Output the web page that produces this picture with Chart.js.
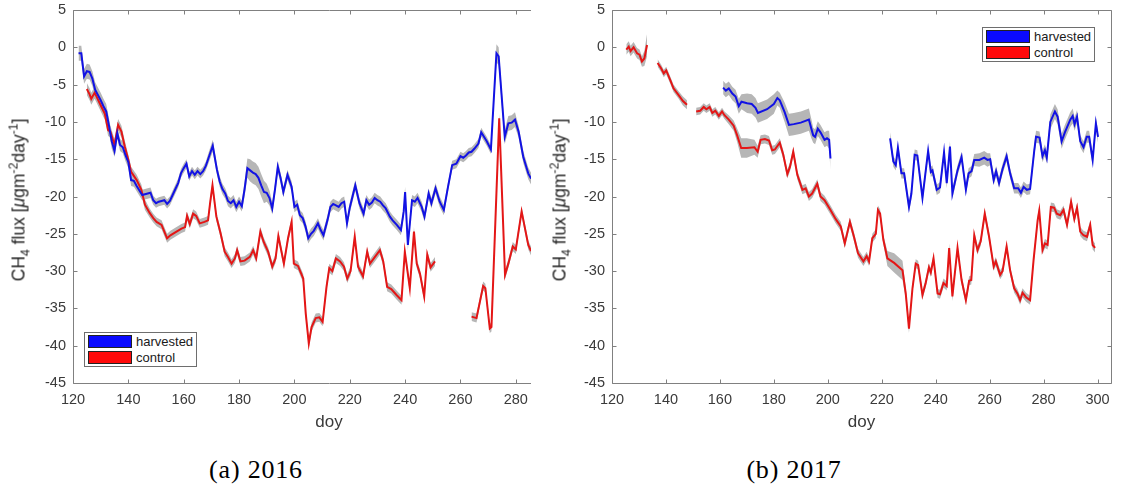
<!DOCTYPE html>
<html>
<head>
<meta charset="utf-8">
<title>CH4 flux 2016 / 2017</title>
<script src="https://cdn.jsdelivr.net/npm/chart.js@4.4.0/dist/chart.umd.min.js"></script>
<style>
  body { margin: 0; background: #fff; }
  #fig { position: relative; width: 1123px; height: 500px; background: #fff; overflow: hidden;
         font-family: "Liberation Sans", Arial, sans-serif; }
  .panel { position: absolute; top: 0; height: 440px; }
  #wrap16 { left: 0; width: 531px; overflow: hidden; }
  #wrap17 { left: 560px; width: 563px; }
  .ylab { position: absolute; font-size: 17.5px; color: #262626; white-space: nowrap;
          transform: translate(-50%, -50%) rotate(-90deg); }
  .ylab sub, .ylab sup { font-size: 70%; line-height: 0; }
  .legend { position: absolute; background: #fff; border: 1px solid #6e6e6e; font-size: 13px;
            color: #1a1a1a; padding: 1px 3px; }
  .legend .row { display: flex; align-items: center; height: 15.5px; }
  .legend .sw { width: 42px; height: 11px; border: 1px solid #222; margin-right: 4px; }
  .caption { position: absolute; top: 470px; transform: translate(-50%, -50%); white-space: nowrap;
             font-family: "Liberation Serif", "DejaVu Serif", serif; font-size: 26px; letter-spacing: 0.8px; color: #000; }
</style>
</head>
<body>
<div id="fig">
  <div class="panel" id="wrap16"><canvas id="chart16" width="600" height="440"></canvas></div>
  <div class="panel" id="wrap17"><canvas id="chart17" width="563" height="440"></canvas></div>
  <div class="ylab" style="left:19px; top:200px;">CH<sub>4</sub> flux [<i>μ</i>gm<sup>-2</sup>day<sup>-1</sup>]</div>
  <div class="ylab" style="left:560px; top:200px;">CH<sub>4</sub> flux [<i>μ</i>gm<sup>-2</sup>day<sup>-1</sup>]</div>
  <div class="legend" id="legend16" style="left:84px; top:332px;"></div>
  <div class="legend" id="legend17" style="left:982px; top:27px;"></div>
  <div class="caption" style="left:256px;">(a) 2016</div>
  <div class="caption" style="left:794px;">(b) 2017</div>
</div>

<script>
// ---- data (doy, flux, half width of grey band) ----
// 2016 harvested
var doy16H = [122, 123, 124, 125, 126, 127, 128, 129, 130, 131,
  132, 133, 134, 135, 136, 137, 138, 139, 140, 141,
  142, 143, 144, 145, 146, 147, 148, 149, 150, 151,
  152, 153, 154, 155, 156, 157, 158, 159, 160, 161,
  162, 163, 164, 165, 166, 167, 168, 169, 170.5, 172,
  173, 174, 175, 176, 177, 178, 179, 180, 181, 182,
  183, 184, 185, 186, 187, 188, 189, 190, 191, 192,
  193, 194, 195, 196, 197.5, 199, 200, 201, 202, 203,
  204, 205, 206, 207, 208.5, 209.5, 210.5, 212, 213, 214,
  215, 216, 217, 218, 219, 220, 222, 223.5, 225, 226,
  227, 228, 229, 230, 231, 232, 233, 234.5, 235.5, 237,
  238.5, 239.5, 240, 241, 242.5, 243.5, 244.5, 246, 247, 248.5,
  249.5, 251, 252.5, 254, 255.5, 257, 258.5, 260, 261, 262,
  263, 264, 265, 266.5, 267.5, 269.5, 271, 273, 273.8, 276,
  277.3, 278.5, 279.7, 281, 282.7, 284.5, 285.5];
var flux16H = [-0.8, -0.8, -3.9, -3.2, -3.3, -4.2, -5.7, -6.4, -7.1, -7.9,
  -8.6, -10.5, -12.6, -13.9, -11.5, -13.1, -13.4, -14.5, -15.4, -17.8,
  -17.9, -18.6, -19.2, -19.8, -19.7, -19.6, -19.5, -20.5, -20.9, -20.7,
  -20.6, -20.5, -21.0, -20.6, -19.8, -19.0, -18.2, -16.9, -16.2, -15.6,
  -17.3, -16.6, -17.1, -16.6, -17.0, -16.6, -15.9, -14.8, -13.2, -16.4,
  -18.0, -19.0, -19.6, -20.6, -20.9, -20.5, -21.4, -20.7, -21.3, -19.0,
  -16.2, -16.5, -16.8, -17.0, -17.5, -18.5, -19.4, -19.5, -20.2, -21.6,
  -19.0, -16.0, -17.5, -19.4, -17.1, -18.7, -21.4, -21.1, -22.5, -22.9,
  -24.0, -25.6, -25.0, -24.6, -23.6, -24.5, -25.2, -23.1, -21.4, -21.0,
  -21.2, -21.4, -20.9, -20.7, -23.6, -21.5, -18.5, -20.9, -22.3, -20.5,
  -21.1, -20.8, -20.2, -20.5, -20.7, -21.2, -21.6, -22.7, -23.2, -23.8,
  -24.5, -22.0, -19.4, -26.5, -20.5, -20.7, -20.2, -21.4, -22.7, -19.6,
  -20.9, -18.9, -20.7, -21.8, -18.7, -15.8, -15.6, -14.6, -14.8, -14.5,
  -14.1, -14.0, -13.6, -12.9, -11.4, -12.6, -13.7, -0.8, -1.2, -12.0,
  -10.2, -10.1, -9.7, -11.3, -14.7, -16.9, -17.6];
var err16H = [1.0, 1.0, 1.0, 1.0, 1.0, 1.0, 1.0, 1.0, 1.0, 1.0,
  1.0, 1.0, 1.0, 0.8, 0.8, 0.8, 0.8, 0.8, 0.8, 0.8,
  0.8, 0.7, 0.7, 0.7, 0.7, 0.7, 0.7, 0.6, 0.6, 0.6,
  0.6, 0.6, 0.6, 0.6, 0.6, 0.6, 0.6, 0.6, 0.6, 0.6,
  0.6, 0.6, 0.6, 0.6, 0.6, 0.6, 0.6, 0.7, 0.8, 0.7,
  0.7, 0.7, 0.7, 0.7, 0.7, 0.7, 0.7, 0.7, 0.7, 1.0,
  1.3, 1.5, 1.5, 1.5, 1.5, 1.5, 1.5, 1.2, 1.0, 0.8,
  0.8, 0.8, 0.7, 0.7, 0.7, 0.7, 0.7, 0.7, 0.7, 0.7,
  0.7, 0.7, 0.7, 0.7, 0.7, 0.7, 0.7, 0.7, 0.7, 0.7,
  0.7, 0.7, 0.7, 0.7, 0.7, 0.7, 0.7, 0.7, 0.7, 0.7,
  0.7, 0.7, 0.7, 0.7, 0.7, 0.7, 0.7, 0.7, 0.7, 0.7,
  0.7, 0.7, 0.7, 0.7, 0.7, 0.7, 0.7, 0.7, 0.7, 0.7,
  0.7, 0.7, 0.7, 0.7, 0.6, 0.6, 0.6, 0.6, 0.6, 0.6,
  0.6, 0.6, 0.6, 0.6, 0.6, 0.6, 0.6, 1.2, 1.2, 1.0,
  1.0, 1.0, 1.0, 0.8, 0.8, 0.8, 0.8];

// 2016 control
var doy16C = [125, 126, 126.6, 127.8, 128.5, 130.3, 131.5, 132.7, 133.5, 135,
  136.3, 137.5, 138.7, 140, 141, 143, 144.7, 146, 147.7, 149,
  150.2, 152, 153, 154, 155.2, 157.4, 159.2, 160.5, 161.2, 162.2,
  163.4, 164.5, 165.8, 167.5, 168.8, 169.5, 170.4, 171.8, 173.3, 174.8,
  176, 177.3, 178.5, 179.3, 180.5, 182, 183.9, 185.1, 186.2, 187.7,
  188.9, 190.5, 192, 193.2, 194.2, 196.2, 197.7, 199, 199.8, 201.3,
  203.2, 204.1, 205.2, 206.2, 207.7, 209, 210.2, 211.6, 212.6, 213.7,
  215, 216.5, 217.9, 219.1, 220.3, 221.8, 223, 224.8, 226.3, 227.3,
  229.1, 230.9, 232.1, 233.5, 235, 236.9, 238.7, 239.9, 241.7, 243.2,
  244.2, 245.4, 246.9, 248, 249.2, 250.8, 257, 264, 265.8, 268.2,
  269, 270.6, 271.2, 274, 276.1, 277.3, 278.9, 280, 282.1, 284.5,
  285.5];
var flux16C = [-5.6, -6.3, -6.9, -6.1, -6.6, -8.0, -8.9, -11.1, -11.3, -13.1,
  -10.4, -11.3, -13.3, -15.1, -16.7, -17.8, -19.1, -21.1, -22.2, -22.9,
  -23.4, -23.8, -24.7, -25.6, -25.2, -24.7, -24.3, -24.1, -22.6, -23.7,
  -22.3, -22.6, -23.6, -23.4, -23.2, -21.0, -18.5, -22.7, -24.9, -27.4,
  -28.1, -29.0, -28.3, -27.2, -28.7, -28.6, -28.1, -27.2, -28.3, -24.7,
  -26.1, -27.4, -29.4, -28.3, -25.3, -29.0, -25.6, -23.4, -29.0, -29.3,
  -31.0, -35.7, -39.7, -37.5, -36.3, -36.2, -36.8, -32.1, -29.6, -30.0,
  -28.3, -28.7, -29.4, -31.0, -30.0, -25.4, -29.4, -30.7, -27.4, -29.0,
  -28.1, -27.2, -28.7, -32.1, -32.4, -33.2, -33.9, -27.4, -32.3, -24.7,
  -29.0, -30.4, -33.4, -27.8, -29.5, -28.7, null, -36.1, -36.3, -32.0,
  -32.3, -37.7, -37.5, -9.5, -30.5, -29.0, -26.7, -27.1, -22.0, -26.5,
  -27.3];
var err16C = [0.8, 0.8, 0.8, 0.8, 0.8, 0.8, 0.8, 0.8, 0.8, 0.8,
  0.8, 0.8, 0.8, 0.7, 0.7, 0.7, 0.7, 0.7, 0.6, 0.6,
  0.6, 0.6, 0.6, 0.6, 0.6, 0.6, 0.6, 0.6, 0.6, 0.6,
  0.6, 0.6, 0.6, 0.6, 0.6, 0.6, 0.6, 0.6, 0.6, 0.6,
  0.6, 0.6, 0.6, 0.6, 0.6, 0.6, 0.6, 0.6, 0.6, 0.6,
  0.6, 0.6, 0.6, 0.6, 0.6, 0.6, 0.6, 0.6, 0.6, 0.6,
  0.6, 0.6, 0.6, 0.6, 0.6, 0.6, 0.6, 0.6, 0.6, 0.6,
  0.6, 0.6, 0.6, 0.6, 0.6, 0.6, 0.6, 0.6, 0.6, 0.6,
  0.6, 0.6, 0.6, 0.6, 0.6, 0.6, 0.6, 0.6, 0.6, 0.6,
  0.6, 0.6, 0.6, 0.6, 0.6, 0.6, null, 0.6, 0.6, 0.6,
  0.6, 0.6, 0.6, 0.6, 0.6, 0.6, 0.6, 0.6, 0.6, 0.6,
  0.6];

// 2017 harvested
var doy17H = [161.2, 162.2, 163.3, 164.6, 165.8, 167, 168, 170.1, 171.8, 173.2,
  174.1, 177.5, 180, 181.3, 182.2, 184, 185.6, 187.4, 190, 193,
  193.9, 194.6, 195.3, 196.3, 197.3, 198.8, 199.7, 200.5, 201, 212,
  223.1, 224.3, 225.2, 226, 227.3, 228.3, 230.1, 231, 232.2, 233.2,
  235.1, 237.2, 238.2, 238.8, 240.4, 241.6, 243.1, 244.1, 245.3, 246.2,
  248.1, 249.6, 251.2, 252.2, 253.3, 254.3, 256.2, 258, 259.2, 260.2,
  261.5, 262.4, 263.5, 264.8, 266.3, 267.6, 269.1, 270.6, 271.6, 272.6,
  273.8, 275, 276.5, 277.2, 278.5, 279.6, 280.5, 281.2, 282.5, 284.2,
  285.2, 286.7, 287.9, 289.9, 290.8, 291.5, 292.4, 293.6, 294.8, 296,
  296.9, 298.2, 299.4, 300.2];
var flux17H = [-5.4, -5.8, -5.5, -6.2, -6.6, -7.9, -7.3, -7.5, -7.6, -8.1,
  -8.8, -8.3, -7.6, -6.8, -7.1, -8.7, -10.4, -10.3, -10.1, -9.7,
  -10.9, -11.8, -12.0, -10.9, -11.4, -12.4, -12.2, -12.4, -14.9, null,
  -12.2, -15.3, -15.8, -13.5, -16.9, -16.9, -21.4, -19.6, -14.4, -14.5,
  -20.2, -13.9, -16.7, -16.5, -19.1, -18.8, -14.1, -18.2, -13.3, -19.6,
  -16.5, -14.7, -19.1, -16.9, -16.6, -15.1, -15.1, -14.8, -15.1, -15.0,
  -17.8, -16.6, -18.2, -16.3, -14.6, -16.9, -18.9, -18.9, -19.5, -18.7,
  -19.1, -19.0, -14.0, -12.0, -12.1, -14.6, -13.8, -14.8, -10.0, -8.6,
  -9.3, -12.6, -11.4, -9.7, -9.2, -10.3, -9.3, -12.6, -13.4, -12.0,
  -12.0, -15.1, -10.2, -12.0];
var err17H = [0.9, 0.9, 0.9, 0.9, 0.9, 1.0, 1.0, 1.3, 1.3, 1.3,
  1.3, 1.3, 1.3, 1.0, 1.0, 1.3, 1.5, 1.5, 1.5, 1.5,
  1.3, 1.0, 1.0, 1.0, 1.0, 1.0, 1.0, 1.2, 1.5, null,
  0.8, 0.7, 0.7, 0.7, 0.7, 0.7, 0.7, 0.7, 0.7, 0.7,
  0.7, 0.7, 0.7, 0.7, 0.7, 0.7, 0.7, 0.7, 0.7, 0.7,
  0.7, 0.7, 0.7, 0.7, 0.7, 0.8, 0.9, 0.9, 0.9, 0.8,
  0.7, 0.7, 0.7, 0.7, 0.7, 0.7, 0.7, 0.7, 0.7, 0.7,
  0.7, 0.7, 0.8, 0.8, 0.8, 0.8, 0.8, 0.8, 1.0, 1.0,
  1.0, 1.0, 1.0, 1.0, 1.0, 0.9, 0.9, 0.8, 0.8, 0.8,
  0.8, 0.8, 0.8, 0.8];

// 2017 control
var doy17C = [125.3, 126.2, 126.9, 128, 129.3, 130.2, 131.1, 132, 133, 135,
  136.9, 138.2, 139.2, 140.1, 141.6, 142.8, 144.7, 146.3, 147.8, 149.5,
  151.2, 152.7, 154, 155, 156.2, 157.2, 158.3, 159.6, 160.8, 161.7,
  163.3, 165.1, 166.4, 167.9, 170, 172.8, 174, 175.1, 176.7, 178.2,
  179.4, 180.4, 182.2, 183.5, 185, 186, 187.2, 188.7, 190.6, 191.8,
  193, 194.2, 196.1, 197.3, 198.8, 201, 202.9, 204.8, 206.3, 208.2,
  209.7, 211.2, 213.2, 214.4, 215.3, 216.5, 217.8, 218.6, 219.4, 220.6,
  222.1, 224.6, 227.7, 228.9, 230.1, 231.4, 232.6, 233.5, 235.1, 236.3,
  237.5, 238.2, 239.2, 240.7, 241.6, 242.9, 244.1, 245, 246.2, 248.1,
  249.6, 251.2, 252.4, 253.2, 254.3, 255.5, 256.7, 258.2, 259.8, 261.5,
  262.3, 263.9, 264.8, 266.3, 267.6, 269.1, 270.3, 271.3, 272.2, 273.5,
  275, 276.3, 277.8, 278.4, 279.6, 280.5, 281.5, 282.7, 283.9, 284.9,
  286.2, 287.4, 288.7, 290.2, 291.4, 292.4, 293.6, 294.8, 296.1, 297.3,
  298.2, 299.1];
var flux17C = [-0.3, 0.1, -0.5, 0.0, -0.8, -1.0, -1.9, -1.5, 0.3, null,
  -2.1, -2.8, -3.5, -3.1, -4.4, -5.5, -6.4, -7.2, -7.7, null,
  -8.6, -8.5, -8.0, -8.3, -8.0, -8.8, -8.5, -9.2, -8.6, -9.1,
  -9.7, -10.5, -11.8, -13.5, -13.5, -13.4, -14.0, -12.4, -12.3, -12.5,
  -13.8, -13.7, -12.8, -14.4, -17.0, -16.0, -14.0, -17.1, -19.1, -18.9,
  -20.0, -19.6, -18.3, -20.0, -20.5, -21.8, -23.0, -24.0, -26.3, -23.4,
  -25.4, -27.6, -28.7, -28.0, -28.7, -25.6, -25.0, -21.8, -22.3, -25.8,
  -28.3, -28.9, -29.9, -33.0, -37.7, -32.3, -29.0, -29.2, -33.2, -31.6,
  -29.5, -30.2, -28.3, -33.0, -33.1, -31.6, -32.0, -26.9, -33.4, -26.9,
  -31.2, -33.9, -31.3, -31.2, -25.2, -27.2, -26.0, -22.3, -25.4, -29.4,
  -28.7, -30.5, -30.0, -26.7, -29.9, -32.3, -33.0, -33.9, -32.9, -33.5,
  -33.9, -28.5, -23.2, -21.9, -27.2, -26.3, -26.5, -21.4, -21.5, -22.3,
  -22.5, -21.8, -23.8, -20.7, -23.0, -21.5, -24.7, -25.2, -25.4, -23.8,
  -26.5, -26.9];
var err17C = [0.7, 0.7, 0.7, 0.7, 0.7, 0.7, 0.7, 1.0, 1.5, null,
  0.5, 0.5, 0.5, 0.5, 0.5, 0.5, 0.5, 0.6, 0.6, null,
  0.5, 0.5, 0.5, 0.5, 0.5, 0.5, 0.5, 0.5, 0.5, 0.5,
  0.6, 0.7, 0.9, 1.3, 1.3, 1.0, 0.8, 0.6, 0.6, 0.6,
  0.6, 0.6, 0.6, 0.6, 0.6, 0.6, 0.6, 0.6, 0.6, 0.6,
  0.6, 0.6, 0.6, 0.6, 0.6, 0.6, 0.6, 0.6, 0.6, 0.6,
  0.6, 0.6, 0.6, 0.6, 0.6, 0.6, 0.6, 0.6, 0.6, 0.6,
  1.0, 1.3, 1.3, 0.8, 0.6, 0.6, 0.6, 0.6, 0.6, 0.6,
  0.6, 0.6, 0.6, 0.6, 0.6, 0.6, 0.6, 0.6, 0.6, 0.6,
  0.6, 0.6, 0.6, 0.6, 0.6, 0.6, 0.6, 0.6, 0.6, 0.6,
  0.6, 0.6, 0.6, 0.6, 0.6, 0.6, 0.6, 0.6, 0.6, 0.6,
  0.6, 0.6, 0.6, 0.6, 0.6, 0.6, 0.6, 0.6, 0.6, 0.6,
  0.6, 0.6, 0.6, 0.6, 0.6, 0.6, 0.6, 0.6, 0.6, 0.6,
  0.6, 0.6];

var seriesNames = ['harvested', 'control'];
var xTicks = { min: 120, max: 305, step: 20 };
var yTicks = { min: -45, max: 5, step: 5 };

// ---- styling ----
var BLUE = 'rgb(18, 18, 228)';
var RED = 'rgb(228, 22, 22)';
var BAND = 'rgb(182, 182, 182)';
var AXIS = '#808080';
var TEXT = '#3a3a3a';

Chart.defaults.font.family = '"Liberation Sans", Arial, sans-serif';

function pts(doys, vals) {
  return doys.map(function(d, i) { return { x: d, y: vals[i] }; });
}
function edge(doys, vals, errs, sign) {
  return doys.map(function(d, i) {
    return { x: d, y: vals[i] === null ? null : vals[i] + sign * errs[i] };
  });
}

/* box round the axes with ticks pointing inward, like the matlab figure */
var framePlugin = {
  id: 'frame',
  afterDraw: function(chart) {
    var ctx = chart.ctx, a = chart.chartArea, x = chart.scales.x, y = chart.scales.y;
    var L = Math.round(a.left) + 0.5, R = Math.round(a.right) + 0.5;
    var T = Math.round(a.top) + 0.5, B = Math.round(a.bottom) + 0.5;
    ctx.save();
    ctx.strokeStyle = AXIS;
    ctx.lineWidth = 1;
    ctx.beginPath();
    ctx.rect(L, T, R - L, B - T);
    x.ticks.forEach(function(t) {
      var px = Math.round(x.getPixelForValue(t.value)) + 0.5;
      ctx.moveTo(px, B); ctx.lineTo(px, B - 4);
      ctx.moveTo(px, T); ctx.lineTo(px, T + 4);
    });
    y.ticks.forEach(function(t) {
      var py = Math.round(y.getPixelForValue(t.value)) + 0.5;
      ctx.moveTo(L, py); ctx.lineTo(L + 4, py);
      ctx.moveTo(R, py); ctx.lineTo(R - 4, py);
    });
    ctx.stroke();
    ctx.restore();
  }
};

function makePanel(id, yWidth, padRight, hDoy, hFlux, hErr, cDoy, cFlux, cErr) {
  var ctx = document.getElementById(id).getContext('2d');
  return new Chart(ctx, {
    type: 'line',
    data: {
      datasets: [
        { label: seriesNames[0], data: pts(hDoy, hFlux), borderColor: BLUE, backgroundColor: BLUE,
          borderWidth: 2, pointRadius: 0, tension: 0, fill: false, order: 1 },
        { label: seriesNames[1], data: pts(cDoy, cFlux), borderColor: RED, backgroundColor: RED,
          borderWidth: 2, pointRadius: 0, tension: 0, fill: false, order: 1 },
        // grey bands
        { label: 'h upper', data: edge(hDoy, hFlux, hErr, 1), borderWidth: 0, pointRadius: 0,
          fill: false, order: 5 },
        { label: 'h lower', data: edge(hDoy, hFlux, hErr, -1), borderWidth: 0, pointRadius: 0,
          backgroundColor: BAND, fill: 2, order: 5 },
        { label: 'c upper', data: edge(cDoy, cFlux, cErr, 1), borderWidth: 0, pointRadius: 0,
          fill: false, order: 5 },
        { label: 'c lower', data: edge(cDoy, cFlux, cErr, -1), borderWidth: 0, pointRadius: 0,
          backgroundColor: BAND, fill: 4, order: 5 }
      ]
    },
    options: {
      responsive: false,
      animation: false,
      devicePixelRatio: 1,
      layout: { padding: { top: 10, right: padRight, bottom: 0, left: 0 } },
      plugins: { legend: { display: false }, tooltip: { enabled: false } },
      scales: {
        x: {
          type: 'linear',
          min: xTicks.min, max: xTicks.max,
          grid: { display: false, drawTicks: false },
          border: { display: false },
          ticks: { stepSize: xTicks.step, includeBounds: false, color: TEXT, padding: 8,
                   font: { size: 14.5 }, maxRotation: 0 },
          title: { display: true, text: 'doy', color: TEXT, font: { size: 17 },
                   padding: { top: 0, bottom: 7 } },
          afterFit: function(s) { s.height = 57; s.paddingLeft = 0; s.paddingRight = 0; }
        },
        y: {
          min: yTicks.min, max: yTicks.max,
          grid: { display: false, drawTicks: false },
          border: { display: false },
          ticks: { stepSize: yTicks.step, color: TEXT, padding: 7, font: { size: 14.5 } },
          afterFit: function(s) { s.width = yWidth; s.paddingTop = 0; s.paddingBottom = 0; }
        }
      }
    },
    plugins: [framePlugin]
  });
}

function fillLegend(elId, chart) {
  var box = document.getElementById(elId);
  chart.data.datasets.slice(0, 2).forEach(function(ds) {
    var row = document.createElement('div');
    row.className = 'row';
    var sw = document.createElement('span');
    sw.className = 'sw';
    sw.style.background = ds.label === 'harvested' ? '#0a0aff' : '#ff0a0a';
    var txt = document.createElement('span');
    txt.textContent = ds.label;
    row.appendChild(sw);
    row.appendChild(txt);
    box.appendChild(row);
  });
}

var chart16 = makePanel('chart16', 73, 15, doy16H, flux16H, err16H, doy16C, flux16C, err16C);
var chart17 = makePanel('chart17', 52, 12, doy17H, flux17H, err17H, doy17C, flux17C, err17C);
fillLegend('legend16', chart16);
fillLegend('legend17', chart17);
</script>
</body>
</html>
